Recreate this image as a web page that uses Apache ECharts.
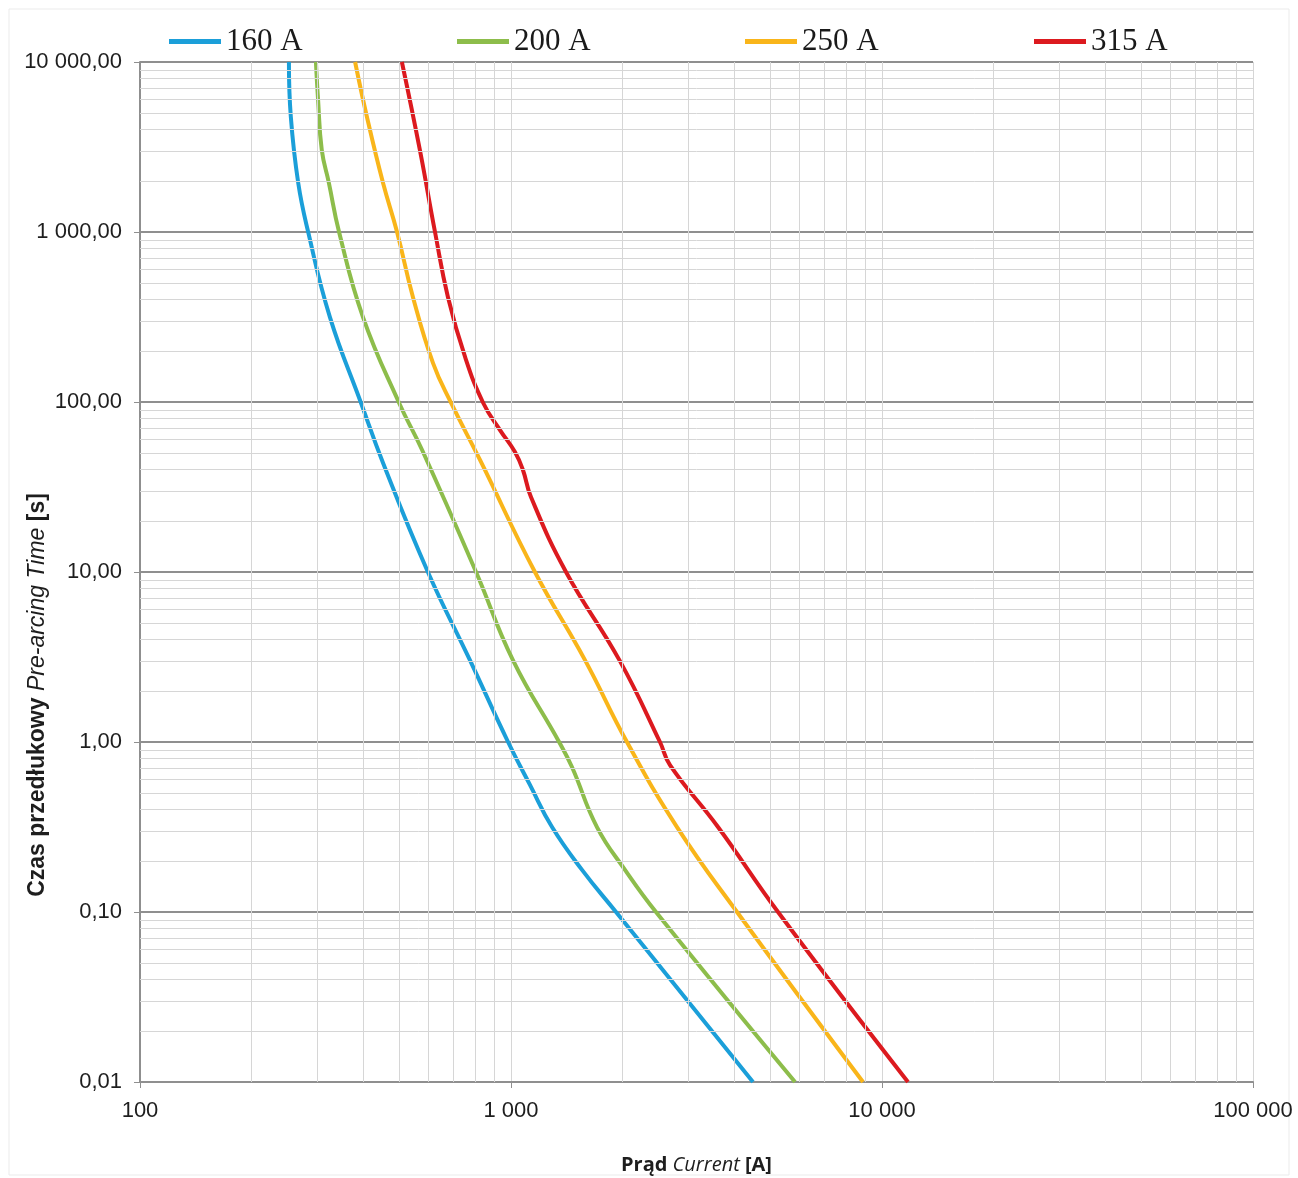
<!DOCTYPE html>
<html>
<head>
<meta charset="utf-8">
<script src="https://cdn.jsdelivr.net/npm/echarts@6/dist/echarts.min.js"></script>
<style>
  html, body { margin: 0; padding: 0; background: #fff; }
  #chart { width: 1298px; height: 1178px; }
</style>
</head>
<body>
<div id="chart"></div>
<script>
// dane: prąd [A] i czas przedłukowy [s]
var names = ['160 A', '200 A', '250 A', '315 A'];
var colors = ['#1b9fd9', '#8dbd4b', '#f9b51a', '#dc1a1f'];

var current160 = [252, 255, 267, 284, 325, 394, 452, 597, 775, 982, 1125, 1290, 1554, 1919, 4490];
var time160 = [10000, 4750, 1940, 1000, 316, 99, 43.8, 10, 3.03, 1, 0.559, 0.316, 0.177, 0.1, 0.01];

var current200 = [298, 302, 309, 323, 344, 399, 499, 576, 805, 1012, 1348, 1460, 1705, 2029, 2459, 5830];
var time200 = [10000, 5980, 3040, 1940, 1000, 316, 99, 52.2, 10, 3.03, 1, 0.713, 0.316, 0.177, 0.1, 0.01];

var current250 = [380, 409, 452, 493, 544, 616, 689, 825, 1160, 1583, 2054, 2802, 4067, 8888];
var time250 = [10000, 4750, 1940, 1000, 415, 170, 99, 45.6, 10, 3.03, 1, 0.316, 0.1, 0.01];

var current315 = [508, 568, 624, 676, 752, 841, 934, 1025, 1077, 1132, 1407, 1960, 2521, 2683, 3614, 5245, 11750];
var time315 = [10000, 3040, 1000, 415, 184, 99, 68.4, 50.8, 39.8, 27.6, 10, 3.03, 1, 0.732, 0.316, 0.1, 0.01];

// linie pomocnicze siatki (2..9 w każdej dekadzie)
var minorX = [200, 300, 400, 500, 600, 700, 800, 900, 2000, 3000, 4000, 5000, 6000, 7000, 8000, 9000,
  20000, 30000, 40000, 50000, 60000, 70000, 80000, 90000];
var minorY = [];
[0.01, 0.1, 1, 10, 100, 1000].forEach(function (d) {
  for (var k = 2; k <= 9; k++) minorY.push(+(d * k).toPrecision(3));
});

function zip(a, b) {
  return a.map(function (v, i) { return [v, b[i]]; });
}
function spaced(s) {
  return s.replace(/\B(?=(\d{3})+(?!\d))/g, ' ');
}
function fmtY(v) {
  var p = Number(v).toFixed(2).split('.');
  return spaced(p[0]) + ',' + p[1];
}
function fmtX(v) {
  return spaced(String(Math.round(v)));
}

var curves = [zip(current160, time160), zip(current200, time200), zip(current250, time250), zip(current315, time315)];

var myChart = echarts.init(document.getElementById('chart'));

var series = curves.map(function (d, i) {
  return {
    name: names[i],
    type: 'line',
    data: d,
    smooth: 0.45,
    symbol: 'none',
    z: 3,
    lineStyle: { color: colors[i], width: 4 },
    itemStyle: { color: colors[i] }
  };
});

// seria pomocnicza tylko dla siatki drugorzędnej
series.unshift({
  name: 'grid',
  type: 'line',
  data: [[100, 0.01]],
  symbol: 'none',
  z: 1,
  lineStyle: { opacity: 0 },
  silent: true,
  markLine: {
    silent: true,
    symbol: ['none', 'none'],
    label: { show: false },
    lineStyle: { color: '#d6d6d6', width: 1, type: 'solid' },
    emphasis: { disabled: true },
    data: minorX.map(function (v) { return { xAxis: v }; })
      .concat(minorY.map(function (v) { return { yAxis: v }; }))
  }
});

var legendLeft = [164, 452, 740, 1029];

option = {
  animation: false,
  backgroundColor: '#fff',
  grid: { left: 140, right: 45, top: 62, bottom: 96, containLabel: false, outerBoundsMode: 'none' },
  legend: names.map(function (n, i) {
    return {
      data: [n],
      left: legendLeft[i],
      top: 21,
      icon: 'rect',
      itemWidth: 52,
      itemHeight: 5,
      selectedMode: false,
      textStyle: { fontFamily: 'Liberation Serif', fontSize: 31, color: '#1a1a1a' }
    };
  }),
  xAxis: {
    type: 'log',
    logBase: 10,
    min: 100,
    max: 100000,
    splitNumber: 3,
    axisLine: { show: true, lineStyle: { color: '#8f8f8f', width: 2 } },
    axisTick: { show: true, length: 6, lineStyle: { color: '#8f8f8f', width: 1 } },
    axisLabel: {
      formatter: fmtX,
      margin: 18,
      fontFamily: 'Liberation Sans',
      fontSize: 22,
      color: '#1e1e1e'
    },
    splitLine: { show: true, lineStyle: { color: '#d6d6d6', width: 1 } },
    name: '{b|Prąd} {i|Current} {b|[A]}',
    nameLocation: 'middle',
    nameGap: 73,
    nameTextStyle: {
      fontFamily: 'Open Sans',
      fontSize: 20,
      color: '#1e1e1e',
      rich: {
        b: { fontFamily: 'Open Sans', fontSize: 20, fontWeight: 'bold', color: '#1e1e1e' },
        i: { fontFamily: 'Open Sans', fontSize: 20, fontStyle: 'italic', color: '#1e1e1e' }
      }
    }
  },
  yAxis: {
    type: 'log',
    logBase: 10,
    min: 0.01,
    max: 10000,
    splitNumber: 6,
    axisLine: { show: true, lineStyle: { color: '#8f8f8f', width: 2 } },
    axisTick: { show: true, length: 6, lineStyle: { color: '#8f8f8f', width: 1 } },
    axisLabel: {
      formatter: fmtY,
      margin: 18,
      fontFamily: 'Liberation Sans',
      fontSize: 22,
      color: '#1e1e1e'
    },
    splitLine: { show: true, lineStyle: { color: '#8f8f8f', width: 2 } }
  },
  graphic: [
    {
      type: 'rect',
      silent: true,
      shape: { x: 9, y: 9, width: 1280, height: 1166 },
      style: { fill: 'none', stroke: '#ebebeb', lineWidth: 1 }
    },
    {
      type: 'text',
      x: 38,
      y: 695,
      rotation: Math.PI / 2,
      style: {
        text: '{b|Czas przedłukowy} {i|Pre-arcing Time} {b|[s]}',
        align: 'center',
        verticalAlign: 'middle',
        font: '23px "Liberation Sans"',
        fill: '#1e1e1e',
        rich: {
          b: { fontFamily: 'Liberation Sans', fontSize: 23, fontWeight: 'bold', fill: '#1e1e1e' },
          i: { fontFamily: 'Liberation Sans', fontSize: 23, fontStyle: 'italic', fill: '#1e1e1e' }
        }
      }
    }
  ],
  series: series
};

myChart.setOption(option);
</script>
</body>
</html>
